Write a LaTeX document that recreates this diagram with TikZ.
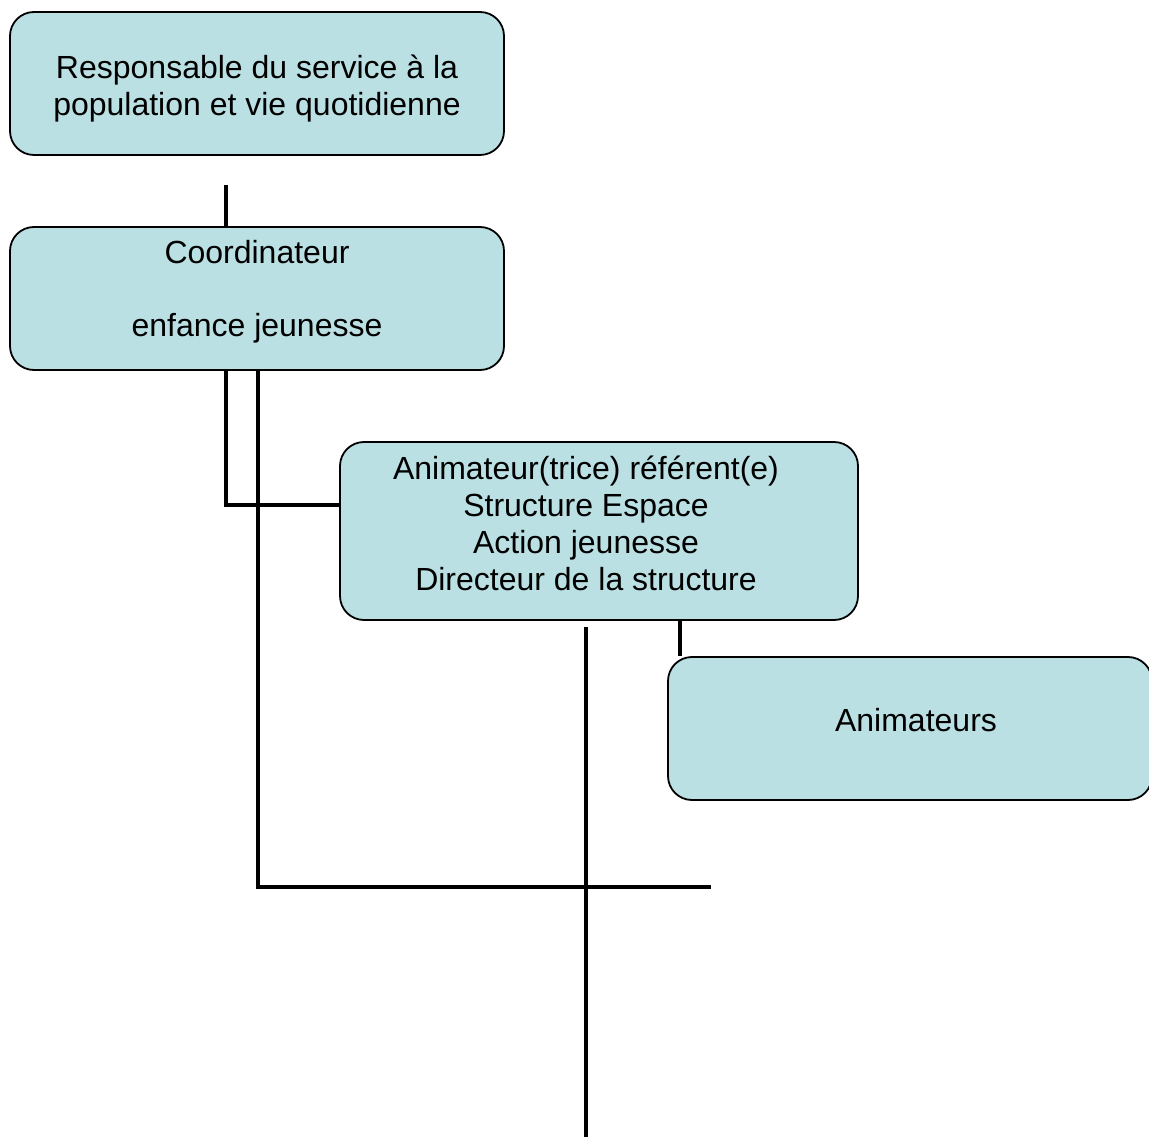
\documentclass[tikz,border=0pt]{standalone}
\usepackage{fontspec}
\setmainfont{Liberation Sans}
\definecolor{boxfill}{RGB}{186,224,227}
\begin{document}
\begin{tikzpicture}[x=1pt,y=-1pt,
  box/.style={draw=black,line width=1.8pt,fill=boxfill,rounded corners=24pt,rectangle,inner sep=0pt},
  lbl/.style={font=\fontsize{32}{37}\selectfont,anchor=base,inner sep=0pt},
  conn/.style={draw=black,line width=4.5pt}]
\useasboundingbox (0,0) rectangle (1149,1139);
\fill[white] (0,0) rectangle (1149,1139);
% boxes
\node[box,minimum width=494pt,minimum height=143pt] (b1) at (257,83.5) {};
\node[box,minimum width=494pt,minimum height=143pt] (b2) at (257,298.5) {};
\node[box,minimum width=518pt,minimum height=178pt] (b3) at (599,531) {};
\node[box,minimum width=484pt,minimum height=143pt] (b4) at (910,728.5) {};
% texts
\node[lbl] (t1a) at (257,79) {Responsable du service à la};
\node[lbl] (t1b) at (257,116) {population et vie quotidienne};
\node[lbl] (t2a) at (257,264) {Coordinateur};
\node[lbl] (t2b) at (257,337) {enfance jeunesse};
\node[lbl] (t3a) at (586,479) {Animateur(trice) référent(e)};
\node[lbl] (t3b) at (586,516) {Structure Espace};
\node[lbl] (t3c) at (586,553) {Action jeunesse};
\node[lbl] (t3d) at (586,590) {Directeur de la structure};
\node[lbl] (t4) at (916,731) {Animateurs};
% connector end points
\coordinate (c1) at (226,185);
\coordinate (c2) at (226,505);
\coordinate (c3) at (258,887);
\coordinate (c4) at (711,887);
\coordinate (c5) at (586,627);
\coordinate (c6) at (586,1137);
\coordinate (c7) at (680,620);
% connectors
\draw[conn] (c1) -- (c1 |- b2.north);
\draw[conn] (c2 |- b2.south) -- (c2) -- (b3.west |- c2);
\draw[conn] (c3 |- b2.south) -- (c3) -- (c4);
\draw[conn] (c5) -- (c6);
\draw[conn] (c7 |- b3.south) -- (c7 |- b4.north);
\end{tikzpicture}
\end{document}
